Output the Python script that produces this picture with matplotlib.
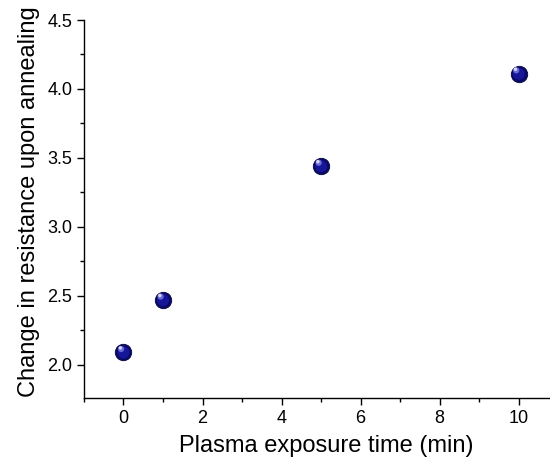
import numpy as np
import matplotlib
matplotlib.use('Agg')
import matplotlib.pyplot as plt
from matplotlib.ticker import MultipleLocator

#- Data:

exposure_time = [0, 1, 5, 10]
resistance_change = [2.09, 2.47, 3.44, 4.11]

plt.rcParams['font.family'] = ['Liberation Sans', 'DejaVu Sans']

fig = plt.figure(figsize=(5.5, 4.63), dpi=100)
# the original frame runs past the right edge of the picture
ax = fig.add_axes([0.1527, 0.1404, 0.88, 0.8164])

#- Shaded "sphere" markers: dark base plus lighter offset highlights

ax.scatter(exposure_time, resistance_change, s=140, color='#0a0a66',
           edgecolors='#050540', linewidths=0.6, zorder=3)
ax.scatter(exposure_time, resistance_change, s=75, color='#161699',
           edgecolors='none', zorder=4)
hx = np.array(exposure_time) - 0.06
hy = np.array(resistance_change) + 0.025
ax.scatter(hx, hy, s=20, color='#6a6ad8', edgecolors='none', zorder=5)
ax.scatter(hx - 0.02, hy + 0.008, s=6, color='#d8d8f6', edgecolors='none', zorder=6)

ax.set_xlim(-1, 11.25)
ax.set_ylim(1.76, 4.5)
ax.xaxis.set_major_locator(MultipleLocator(2))
ax.xaxis.set_minor_locator(MultipleLocator(1))
ax.yaxis.set_major_locator(MultipleLocator(0.5))
ax.yaxis.set_minor_locator(MultipleLocator(0.25))

ax.spines['top'].set_visible(False)
ax.spines['right'].set_visible(False)
for s in ['left', 'bottom']:
    ax.spines[s].set_linewidth(1.0)

ax.tick_params(which='major', direction='out', length=5, width=1, labelsize=13)
ax.tick_params(which='minor', direction='out', length=3, width=1)
ax.set_xlabel('Plasma exposure time (min)', fontsize=17, labelpad=6)
ax.set_ylabel('Change in resistance upon annealing', fontsize=17, labelpad=4)
ax.yaxis.set_label_coords(-0.09, 0.52)

plt.savefig('out.png', dpi=100)
